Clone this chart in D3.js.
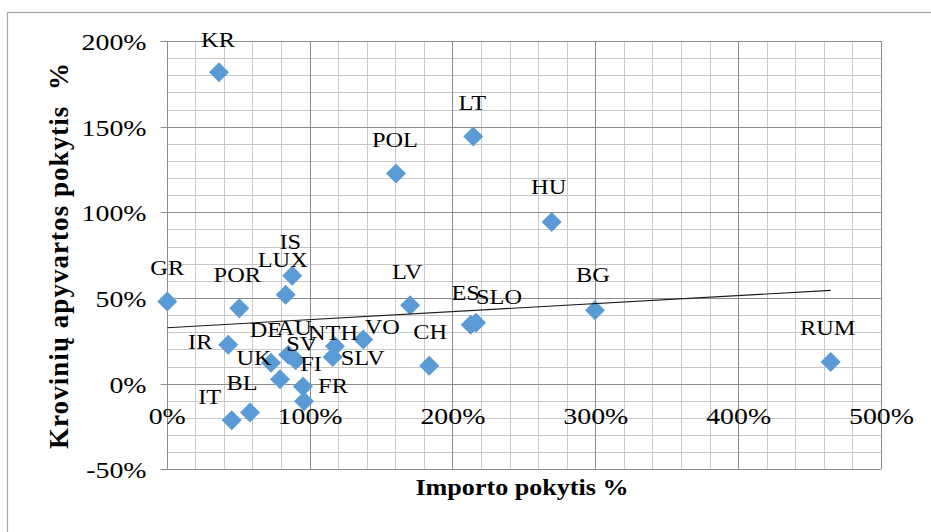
<!DOCTYPE html>
<html><head><meta charset="utf-8">
<script src="https://cdn.jsdelivr.net/npm/d3@7"></script>
<style>
html,body{margin:0;padding:0;background:#fff;}
svg{display:block;font-family:"Liberation Serif","Times New Roman",serif;}
</style></head>
<body>
<svg id="chart" width="931" height="532"></svg>
<script>
// ---- data ----
const countries = ["GR","POR","IS","LUX","IR","DE","UK","AU","SV","FR","FI","NTH","SLV","VO","BL","IT","CH","LV","ES","SLO","BG","RUM","KR","POL","LT","HU"];
const importChange = [0.4,50.8,87.9,83.3,43.1,73.0,79.3,85.1,90.3,95.4,96.1,117.8,116.2,137.6,58.3,45.5,183.8,170.4,212.8,216.5,299.8,464.8,36.6,160.5,214.6,269.5];
const cargoChange  = [48.0,44.0,63.0,51.9,22.7,12.2,2.5,16.9,13.6,-1.6,-10.3,21.8,15.5,25.7,-16.9,-21.4,10.5,45.7,34.4,35.6,42.8,12.6,181.8,122.7,144.3,94.3];
const xTickValues = [0,100,200,300,400,500];
const yTickValues = [-50,0,50,100,150,200];
const xTitle = "Importo pokytis %";
const yTitle = "Krovinių apyvartos pokytis  %";

// ---- layout (label placement relative to marker, px) ----
const labelOffsets = {
  GR:[0,-33],POR:[-2,-33],IS:[-2,-34],LUX:[-3,-35],IR:[-28,-3],DE:[-5,-33],UK:[-26,-21],
  AU:[6,-27],SV:[6,-16],FR:[30,0],FI:[7,-37],NTH:[-2,-13.5],SLV:[30,1],VO:[19,-13],
  BL:[-8,-30],IT:[-22,-23],CH:[1,-34],LV:[-3,-33],ES:[-5,-32],SLO:[23,-26],BG:[-2,-35],
  RUM:[-3,-34],KR:[-1,-32],POL:[-1,-33],LT:[-1,-33],HU:[-3,-35]
};
const SX = 1.16; // horizontal glyph stretch seen in the reference
const pL = 166.7, pR = 881, pT = 41, pB = 469.3;

const svg = d3.select("#chart");
const x = d3.scaleLinear().domain([0,500]).range([pL,pR]);
const y = d3.scaleLinear().domain([-50,200]).range([pB,pT]);
const snap = v => Math.round(v) + 0.5;

// outer chart border
svg.append("rect").attr("x",7.5).attr("y",12.5).attr("width",940).attr("height",540)
  .attr("fill","none").attr("stroke","#a6a6a6").attr("stroke-width",1.2);

const grid = svg.append("g");
// minor grid
d3.range(0,501,20).filter(v=>v%100!==0).forEach(v=>{
  grid.append("line").attr("x1",snap(x(v))).attr("x2",snap(x(v))).attr("y1",pT).attr("y2",pB)
    .attr("stroke","#c8c8c8").attr("stroke-width",1);
});
d3.range(-50,201,10).filter(v=>v%50!==0).forEach(v=>{
  grid.append("line").attr("y1",snap(y(v))).attr("y2",snap(y(v))).attr("x1",pL).attr("x2",pR)
    .attr("stroke","#c8c8c8").attr("stroke-width",1);
});
// major grid
xTickValues.forEach(v=>{
  grid.append("line").attr("x1",snap(x(v))).attr("x2",snap(x(v))).attr("y1",pT).attr("y2",pB)
    .attr("stroke","#8c8c8c").attr("stroke-width",1);
});
yTickValues.forEach(v=>{
  grid.append("line").attr("y1",snap(y(v))).attr("y2",snap(y(v))).attr("x1",pL).attr("x2",pR)
    .attr("stroke","#8c8c8c").attr("stroke-width",1);
});

// y axis
const yAxis = svg.append("g").attr("transform",`translate(${snap(pL)},0)`)
  .call(d3.axisLeft(y).tickValues(yTickValues).tickSize(7).tickFormat(d=>d+"%"));
yAxis.select(".domain").remove();
yAxis.selectAll(".tick line").attr("stroke","#8c8c8c");
yAxis.selectAll(".tick").attr("transform",d=>`translate(0,${snap(y(d))})`);
yAxis.selectAll(".tick text").attr("x",0).attr("dy",null).attr("fill","#000")
  .attr("font-family","Liberation Serif").attr("font-size",24)
  .attr("text-anchor","end").attr("transform",`translate(-21,8) scale(${SX},1)`);

// x axis labels
const xAxis = svg.append("g").attr("transform","translate(0,424)")
  .call(d3.axisBottom(x).tickValues(xTickValues).tickSize(0).tickFormat(d=>d+"%"));
xAxis.select(".domain").remove();
xAxis.selectAll(".tick text").attr("y",0).attr("dy",null).attr("fill","#000")
  .attr("font-family","Liberation Serif").attr("font-size",24)
  .attr("text-anchor","middle").attr("transform",`scale(${SX},1)`);

// data
const data = countries.map((c,i)=>({c, x:importChange[i], y:cargoChange[i]}));

// markers
const diamond = "M0,-10L10,0L0,10L-10,0Z";
svg.append("g").selectAll("path").data(data).join("path")
  .attr("d",diamond).attr("transform",d=>`translate(${x(d.x)},${y(d.y)})`)
  .attr("fill","#5b9bd5");

// linear trendline (least squares)
const mx = d3.mean(importChange), my = d3.mean(cargoChange);
const sxy = d3.sum(data,d=>(d.x-mx)*(d.y-my)), sxx = d3.sum(data,d=>(d.x-mx)**2);
const slope = sxy/sxx, icpt = my - slope*mx;
const [xmin,xmax] = d3.extent(importChange);
svg.append("line").attr("x1",x(xmin)).attr("y1",y(icpt+slope*xmin))
  .attr("x2",x(xmax)).attr("y2",y(icpt+slope*xmax))
  .attr("stroke","#1a1a1a").attr("stroke-width",1.1);

// data labels
svg.append("g").selectAll("text").data(data).join("text")
  .attr("transform",d=>{const o=labelOffsets[d.c];return `translate(${x(d.x)+o[0]},${y(d.y)+o[1]+7}) scale(${SX},1)`;})
  .attr("text-anchor","middle").attr("font-size",21).attr("fill","#000")
  .text(d=>d.c);

// axis titles
svg.append("text").attr("transform",`translate(522,495) scale(${SX},1)`)
  .attr("text-anchor","middle").attr("font-weight","bold").attr("font-size",22.5).text(xTitle);
svg.append("text").attr("transform",`translate(68,256) rotate(-90)`)
  .attr("text-anchor","middle").attr("font-weight","bold").attr("font-size",27)
  .attr("textLength",386).attr("lengthAdjust","spacing")
  .style("white-space","pre").text(yTitle);
</script>
</body></html>
